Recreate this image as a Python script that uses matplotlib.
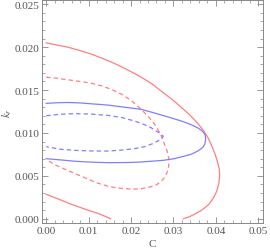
import matplotlib
matplotlib.use('Agg')
import matplotlib.pyplot as plt
from matplotlib.ticker import MultipleLocator, FormatStrFormatter

plt.rcParams['mathtext.fontset'] = 'stix'

# curves (C, k_r)
red_top_c = [0.0, 0.0025, 0.0051, 0.0080, 0.0106, 0.0133, 0.0160, 0.0186, 0.0212, 0.0232,
             0.0250, 0.0268, 0.0286, 0.0306, 0.0325, 0.0338, 0.0349, 0.0361, 0.0372, 0.0383,
             0.0392, 0.0399, 0.0404, 0.0408, 0.0409, 0.0407, 0.0402, 0.0394, 0.0384, 0.0367,
             0.0349, 0.0336, 0.0323]
red_top_k = [0.0205, 0.02025, 0.0200, 0.0196, 0.0192, 0.01868, 0.01812, 0.0175, 0.01683, 0.01626,
             0.0157, 0.0150, 0.01432, 0.01352, 0.0127, 0.01212, 0.01156, 0.0109, 0.0102, 0.0093,
             0.0083, 0.0074, 0.0066, 0.0058, 0.0050, 0.0041, 0.0032, 0.0024, 0.0017, 0.0010,
             0.0005, 0.0002, 0.0]

red_low_c = [0.0, 0.0018, 0.0035, 0.0058, 0.0082, 0.0102, 0.0122, 0.0138, 0.0152]
red_low_k = [0.00284, 0.0025, 0.00217, 0.0017, 0.00128, 0.00093, 0.00062, 0.0003, 0.0]

red_dash_c = [0.0, 0.0025, 0.0051, 0.0080, 0.0106, 0.0130, 0.0153, 0.0178, 0.0200, 0.0216,
              0.0231, 0.0246, 0.0259, 0.0270, 0.0278, 0.0285, 0.0289, 0.0289, 0.0286, 0.0279,
              0.0270, 0.0258, 0.0245, 0.0224, 0.0204, 0.0184, 0.0165, 0.0145, 0.0118, 0.0090,
              0.0066, 0.0043, 0.0020, 0.0]
red_dash_k = [0.0165, 0.01638, 0.0162, 0.0160, 0.0158, 0.0155, 0.0151, 0.0145, 0.0138, 0.0131,
              0.0124, 0.0116, 0.0108, 0.0098, 0.0088, 0.0079, 0.0070, 0.0062, 0.0055, 0.0048,
              0.0043, 0.0039, 0.0037, 0.0035, 0.00345, 0.0035, 0.0036, 0.0038, 0.0042, 0.0048,
              0.0053, 0.0058, 0.0063, 0.0069]

blue_c = [0.0, 0.0025, 0.0051, 0.0080, 0.0106, 0.0145, 0.0185, 0.0224, 0.0250, 0.0271,
          0.0295, 0.0318, 0.0340, 0.0357, 0.0366, 0.0372, 0.0375, 0.0376, 0.0374, 0.0369,
          0.0358, 0.0341, 0.0322, 0.0302, 0.0275, 0.0247, 0.0220, 0.0190, 0.0145, 0.0105,
          0.0067, 0.0035, 0.0]
blue_k = [0.01345, 0.01352, 0.01355, 0.0135, 0.0134, 0.01325, 0.0130, 0.01275, 0.0124, 0.0121,
          0.01175, 0.0114, 0.0110, 0.0106, 0.0103, 0.0100, 0.0097, 0.00925, 0.0087, 0.0083,
          0.0079, 0.0075, 0.00725, 0.0070, 0.0068, 0.0067, 0.0066, 0.00655, 0.00653, 0.0066,
          0.0067, 0.00685, 0.0070]

blue_dash_c = [0.0, 0.0033, 0.0067, 0.0105, 0.0145, 0.0178, 0.0208, 0.0230, 0.0247, 0.0260,
               0.0270, 0.0276, 0.0273, 0.0265, 0.0251, 0.0232, 0.0208, 0.0178, 0.0145, 0.0105,
               0.0067, 0.0033, 0.0]
blue_dash_k = [0.0120, 0.01218, 0.01225, 0.0122, 0.01205, 0.0118, 0.01139, 0.0110, 0.01062, 0.0102,
               0.0099, 0.0096, 0.0094, 0.0091, 0.00875, 0.0084, 0.00817, 0.0080, 0.00789, 0.0079,
               0.00797, 0.0081, 0.0084]

red = '#ff7f7f'
blue = '#7f7fff'
gray = '#888888'
txt = '#555555'

fig = plt.figure(figsize=(2.7, 2.53), dpi=100)
ax = fig.add_axes([42 / 270, 29 / 253, 220.5 / 270, 223 / 253])

lw = 0.9
dash = (0, (3.5, 2.5))
ax.plot(red_top_c, red_top_k, color=red, lw=lw)
ax.plot(red_low_c, red_low_k, color=red, lw=lw)
ax.plot(red_dash_c, red_dash_k, color=red, lw=lw, linestyle=dash)
ax.plot(blue_c, blue_k, color=blue, lw=lw)
ax.plot(blue_dash_c, blue_dash_k, color=blue, lw=lw, linestyle=dash)

ax.set_xlim(-0.001, 0.051)
ax.set_ylim(-0.0005, 0.0255)

ax.xaxis.set_major_locator(MultipleLocator(0.01))
ax.xaxis.set_minor_locator(MultipleLocator(0.002))
ax.yaxis.set_major_locator(MultipleLocator(0.005))
ax.yaxis.set_minor_locator(MultipleLocator(0.001))
ax.xaxis.set_major_formatter(FormatStrFormatter('%.2f'))
ax.yaxis.set_major_formatter(FormatStrFormatter('%.3f'))

ax.tick_params(which='both', direction='in', top=True, right=True,
               color=gray, labelcolor=txt, labelsize=8, pad=2)
ax.tick_params(which='major', length=4, width=0.6)
ax.tick_params(which='minor', length=2, width=0.5)
for lab in ax.get_xticklabels() + ax.get_yticklabels():
    lab.set_fontfamily('Liberation Serif')
for s in ax.spines.values():
    s.set_color(gray)
    s.set_linewidth(0.7)

ax.set_xlabel('C', fontsize=8, family='Liberation Serif', color=txt, labelpad=3)
ax.set_ylabel('$k_r$', fontsize=8, color=txt)
ax.yaxis.set_label_coords(-0.128, 0.5)

fig.savefig('out.png', dpi=100)
